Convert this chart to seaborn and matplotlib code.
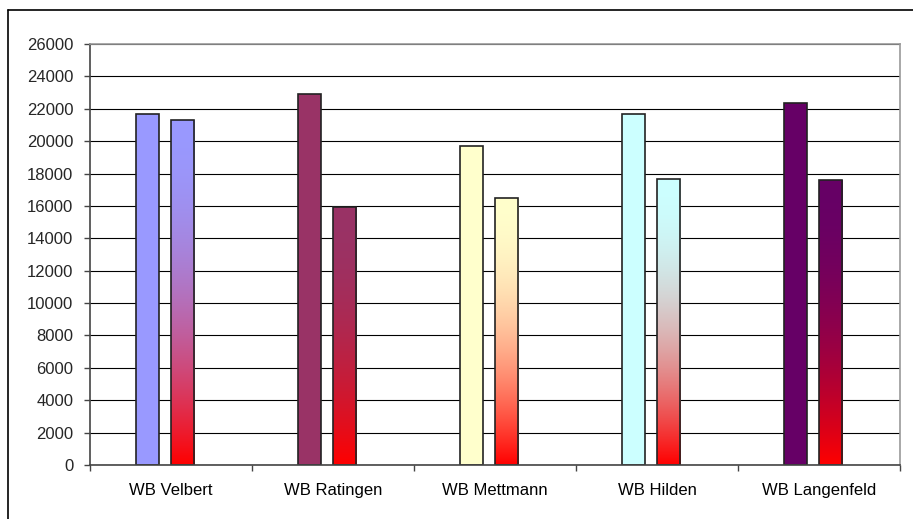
import numpy as np
import pandas as pd
import seaborn as sns
import matplotlib.pyplot as plt
from matplotlib.colors import to_rgb
from matplotlib.lines import Line2D

# data
sites = ["WB Velbert", "WB Ratingen", "WB Mettmann", "WB Hilden", "WB Langenfeld"]
series_a = [21700, 22900, 19700, 21700, 22350]
series_b = [21300, 15950, 16500, 17650, 17600]
bar_colors = ["#9999FF", "#993366", "#FFFFCC", "#CCFFFF", "#660066"]
y_ticks = list(range(0, 26001, 2000))

df = pd.DataFrame({
    "site": sites + sites,
    "value": series_a + series_b,
    "series": ["a"] * len(sites) + ["b"] * len(sites),
})

sns.set_style("white")
plt.rcParams["font.family"] = ["Liberation Sans", "DejaVu Sans"]

fig = plt.figure(figsize=(9.13, 5.19), dpi=100)
ax = fig.add_axes([90 / 913, 54 / 519, 810 / 913, 421 / 519])

sns.barplot(data=df, x="site", y="value", hue="series", width=0.432, gap=0.333,
            ax=ax, legend=False, edgecolor="#222222", linewidth=1.2,
            saturation=1, errorbar=None)

# bars in excel sit a bit left of the category centre
for cont in ax.containers:
    for p in cont:
        p.set_x(p.get_x() - 0.038)
        p.set_zorder(2)

for p, c in zip(ax.containers[0], bar_colors):
    p.set_facecolor(c)

# second series: gradient from the site colour down to red
red = np.array(to_rgb("#FF0000"))
t = np.linspace(0, 1, 256) ** 2
for p, c in zip(ax.containers[1], bar_colors):
    top = np.array(to_rgb(c))
    grad = top[None, :] * (1 - t[:, None]) + red[None, :] * t[:, None]
    x0, w, h = p.get_x(), p.get_width(), p.get_height()
    im = ax.imshow(grad[:, None, :], extent=[x0, x0 + w, 0, h], aspect="auto",
                   origin="upper", zorder=1.9, interpolation="bilinear")
    im.set_clip_path(p)
    p.set_facecolor("none")

ax.set_xlim(-0.5, 4.5)
ax.set_ylim(0, 26000)
ax.set_yticks(y_ticks)
ax.set_yticklabels([str(v) for v in y_ticks])
ax.set_xlabel("")
ax.set_ylabel("")

ax.set_axisbelow(True)
ax.yaxis.grid(True, color="#000000", linewidth=0.8)
ax.xaxis.grid(False)

ax.set_xticks(np.arange(-0.5, 5, 1), minor=True)
ax.tick_params(axis="x", which="major", length=0, pad=13, labelsize=12, colors="#000000")
ax.tick_params(axis="x", which="minor", length=4, width=1, color="#444444", direction="out", bottom=True)
ax.tick_params(axis="y", which="major", length=4, width=1, color="#444444", direction="out",
               pad=8, labelsize=12, left=True)

for side in ["left", "bottom"]:
    ax.spines[side].set_color("#444444")
    ax.spines[side].set_linewidth(1.2)
for side in ["top", "right"]:
    ax.spines[side].set_visible(True)
    ax.spines[side].set_color("#999999")
    ax.spines[side].set_linewidth(1.2)

# outer chart frame (left and top visible in the crop)
fig.add_artist(Line2D([7.5 / 913, 7.5 / 913], [0, 1 - 10 / 519], color="black", lw=1.2))
fig.add_artist(Line2D([7.5 / 913, 1], [1 - 10 / 519, 1 - 10 / 519], color="black", lw=1.2))

fig.savefig("out.png", dpi=100)
